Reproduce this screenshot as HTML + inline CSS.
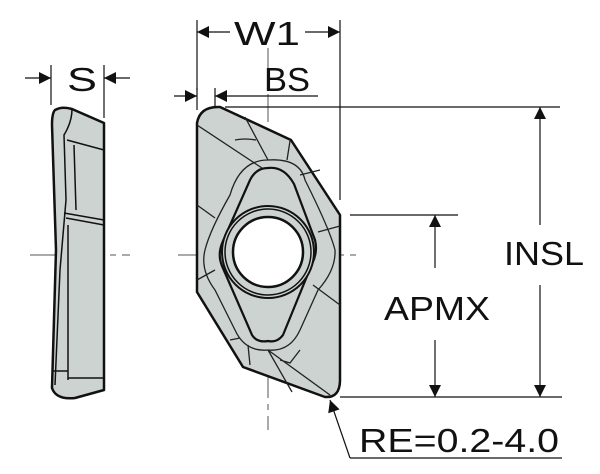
<!DOCTYPE html>
<html><head><style>
html,body{margin:0;padding:0;background:#fff;}
svg{display:block}
text{font-family:"Liberation Sans",sans-serif;fill:#111;}
</style></head><body>
<svg width="600" height="474" viewBox="0 0 600 474" xmlns="http://www.w3.org/2000/svg">
<defs>
<marker id="a" viewBox="0 0 10 10" refX="10" refY="5" markerWidth="20" markerHeight="12" markerUnits="userSpaceOnUse" orient="auto-start-reverse"><path d="M0,0L10,5L0,10z" fill="#111"/></marker>
</defs>
<g stroke="#555" stroke-width="1" stroke-dasharray="28,6,6,6" fill="none">
<line x1="30" y1="255" x2="130" y2="255"/>
<line x1="178" y1="255" x2="356" y2="255"/>
<line x1="268" y1="48" x2="268" y2="430"/>
</g>
<g stroke="#111" stroke-width="2.5" fill="#cdd3d1" stroke-linejoin="round">
<path d="M55,110 Q62,106 72,109 L104,123 L104,390 L75,398 Q56,400 52,388 L56,250 L52,125 Q52,113 55,110z"/>
</g>
<g stroke="#111" stroke-width="1.5" fill="none">
<path d="M72,109 Q72,122 64,135 L66,200 L60,270 L55,385"/>
<path d="M67,140 L104,150 M74,145 L76,210 M64,213 L104,220 M66,218 L104,225 M68,225 L68,380 M53,371 L68,371 M68,378 L104,378"/>
</g>
<path d="M197,123 Q200,106 220,107 L291,140 L340,215 L340,380 Q340,398 325,397 L243,367 L197,292z" fill="#cdd3d1" stroke="#111" stroke-width="2.5" stroke-linejoin="round"/>
<g stroke="#222" stroke-width="1.3" fill="none">
<path d="M245,117 L268,160 M197,125 L265,170 M290,141 L287,160 M300,175 L320,170 M318,232 L340,226 M313,285 L340,305 M197,205 L215,218 M197,280 L215,270 M250,365 L248,345 M268,350 L292,392 M268,350 L330,395 M240,338 L230,340 M300,350 L290,363 L280,360"/>
<path d="M268,160 Q300,158 305,180 Q330,230 335,250 Q336,270 318,290 L300,330 Q290,352 268,350 Q245,352 235,330 L215,290 Q200,270 205,250 Q210,230 230,195 Q240,160 268,160z"/>
<path d="M235,140 Q245,138 256,140"/>
</g>
<path d="M268,168 Q284,166 294,184 L315,240 Q318,252 312,264 L283,335 Q277,343 268,341 Q257,343 252,335 L222,266 Q217,254 223,241 L250,180 Q256,168 268,168z" fill="#cdd3d1" stroke="#111" stroke-width="2.2"/>
<circle cx="268" cy="252" r="46" fill="#cdd3d1" stroke="#111" stroke-width="2"/>
<circle cx="268" cy="252" r="43" fill="none" stroke="#111" stroke-width="1.5"/>
<circle cx="268" cy="252" r="35" fill="#fff" stroke="#111" stroke-width="2.5"/>
<g stroke="#111" stroke-width="1.2" fill="none">
<line x1="51" y1="65" x2="51" y2="105"/><line x1="104" y1="65" x2="104" y2="118"/>
<line x1="197" y1="20" x2="197" y2="90"/><line x1="340" y1="20" x2="340" y2="200"/>
<line x1="197" y1="88" x2="197" y2="110"/><line x1="215" y1="88" x2="215" y2="108"/>
<line x1="225" y1="107" x2="560" y2="107"/>
<line x1="350" y1="215" x2="458" y2="215"/>
<line x1="340" y1="397" x2="562" y2="397"/>
</g>
<g stroke="#111" stroke-width="1.2" fill="none">
<line x1="25" y1="78" x2="51" y2="78" marker-end="url(#a)"/>
<line x1="130" y1="78" x2="104" y2="78" marker-end="url(#a)"/>
<line x1="230" y1="32" x2="197" y2="32" marker-end="url(#a)"/>
<line x1="305" y1="32" x2="340" y2="32" marker-end="url(#a)"/>
<line x1="174" y1="96" x2="197" y2="96" marker-end="url(#a)"/>
<line x1="318" y1="96" x2="215" y2="96" marker-end="url(#a)"/>
<line x1="540" y1="225" x2="540" y2="107" marker-end="url(#a)"/>
<line x1="540" y1="285" x2="540" y2="397" marker-end="url(#a)"/>
<line x1="435" y1="268" x2="435" y2="215" marker-end="url(#a)"/>
<line x1="435" y1="340" x2="435" y2="397" marker-end="url(#a)"/>
<line x1="350" y1="458" x2="562" y2="458"/>
<line x1="350" y1="458" x2="330" y2="400" marker-end="url(#a)"/>
</g>
<g font-size="33">
<text x="67" y="91" textLength="30" lengthAdjust="spacingAndGlyphs">S</text>
<text x="234" y="45" textLength="66" lengthAdjust="spacingAndGlyphs">W1</text>
<text x="264" y="91" textLength="46" lengthAdjust="spacingAndGlyphs">BS</text>
<text x="504" y="265" textLength="80" lengthAdjust="spacingAndGlyphs">INSL</text>
<text x="384" y="320" textLength="106" lengthAdjust="spacingAndGlyphs">APMX</text>
<text x="359" y="452" textLength="200" lengthAdjust="spacingAndGlyphs">RE=0.2-4.0</text>
</g>
</svg>
</body></html>
